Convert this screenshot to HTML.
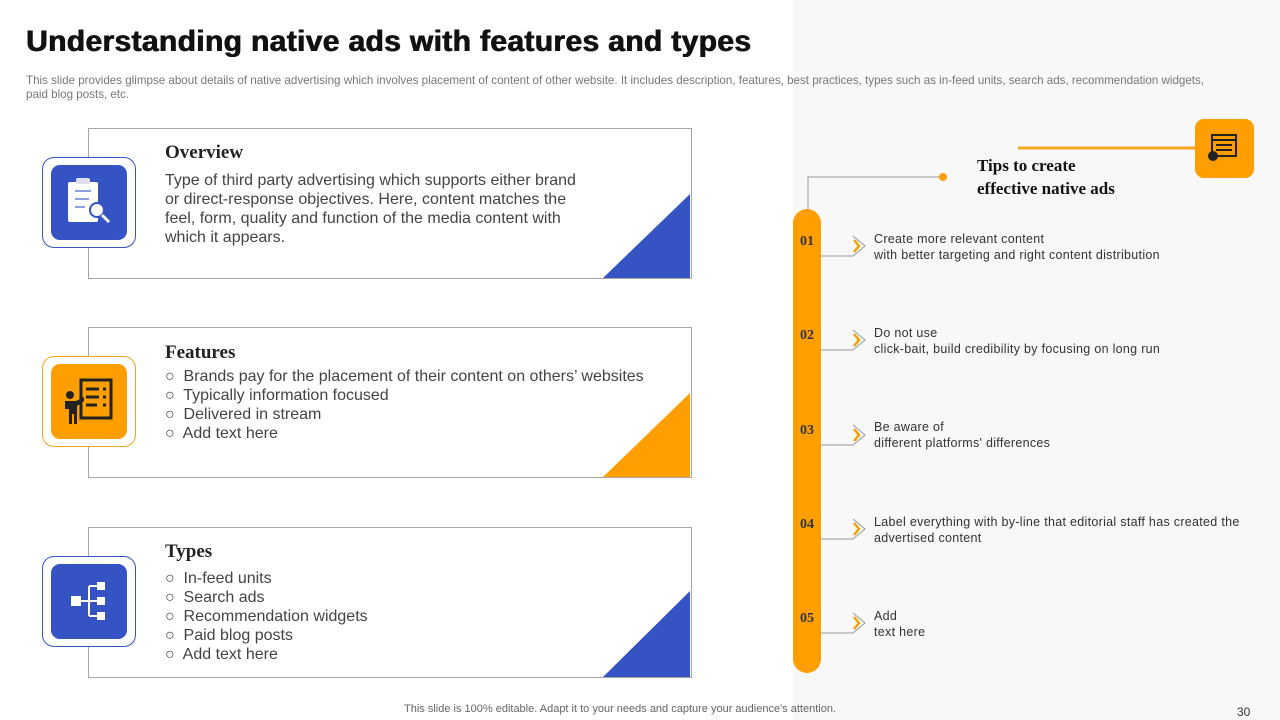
<!DOCTYPE html>
<html><head><meta charset="utf-8"><style>
*{margin:0;padding:0;box-sizing:border-box}
body{width:1280px;height:720px;position:relative;background:#fff;font-family:"Liberation Sans",sans-serif;overflow:hidden;color:#333}
.a{position:absolute}
.card{position:absolute;left:88px;width:604px;height:151px;border:1px solid #a6a6a6;background:#fff;overflow:hidden}
.card svg{position:absolute;right:0;bottom:0}
.ib{position:absolute;left:42px;width:94px;height:91px;border-radius:12px;background:#fff}
.ii{position:absolute;left:8px;top:7px;width:76px;height:75px;border-radius:9px}
.h{position:absolute;left:165px;font-family:"Liberation Serif",serif;font-weight:bold;font-size:19px;color:#222}
.t{position:absolute;left:165px;font-size:16px;line-height:19px;color:#444}
.num{position:absolute;left:793px;width:28px;text-align:center;font-family:"Liberation Serif",serif;font-weight:bold;font-size:14px;color:#333}
.tip{position:absolute;left:874px;font-size:12.5px;line-height:16px;color:#333;letter-spacing:0.3px}
</style></head><body>
<div class="a" style="left:793px;top:0;width:487px;height:720px;background:#f8f8f8"></div>
<div class="a" style="left:26px;top:25px;font-size:30px;font-weight:bold;color:#111;letter-spacing:0.35px;text-shadow:0.6px 0 0 #111,-0.3px 0 0 #111">Understanding native ads with features and types</div>
<div class="a" style="left:26px;top:74px;width:1240px;font-size:11.6px;line-height:14px;color:#777;white-space:nowrap">This slide provides glimpse about details of native advertising which involves placement of content of other website. It includes description, features, best practices, types such as in-feed units, search ads, recommendation widgets,<br>paid blog posts, etc.</div>

<div class="card" style="top:128px"><svg width="88" height="84"><polygon points="87,0 87,84 0,84" fill="#3653c4"/></svg></div>
<div class="card" style="top:327px"><svg width="88" height="84"><polygon points="87,0 87,84 0,84" fill="#ff9e00"/></svg></div>
<div class="card" style="top:527px"><svg width="88" height="86"><polygon points="87,0 87,86 0,86" fill="#3653c4"/></svg></div>

<div class="ib" style="top:157px;border:1px solid #3653c4"><div class="ii" style="background:#3653c4"><svg width="76" height="75"><rect x="17" y="17" width="30" height="40" rx="2" fill="#fff"/><rect x="25" y="13" width="14" height="6" rx="2" fill="#dde"/><g stroke="#8fa0e0" stroke-width="2"><line x1="24" y1="26" x2="40" y2="26"/><line x1="24" y1="34" x2="38" y2="34"/><line x1="24" y1="42" x2="34" y2="42"/></g><circle cx="46" cy="45" r="7" fill="#fff" stroke="#3653c4" stroke-width="2"/><line x1="51" y1="50" x2="58" y2="57" stroke="#fff" stroke-width="3"/></svg></div></div>
<div class="ib" style="top:356px;border:1px solid #f0a818"><div class="ii" style="background:#ff9e00"><svg width="76" height="75"><rect x="30" y="16" width="30" height="38" fill="none" stroke="#222" stroke-width="3"/><g stroke="#222" stroke-width="3"><line x1="35" y1="25" x2="48" y2="25"/><line x1="35" y1="33" x2="48" y2="33"/><line x1="35" y1="41" x2="46" y2="41"/><line x1="52" y1="25" x2="55" y2="25"/><line x1="52" y1="33" x2="55" y2="33"/><line x1="52" y1="41" x2="55" y2="41"/></g><circle cx="19" cy="31" r="4" fill="#222"/><path d="M14 37h11l8-4v4l-7 5v18h-3v-10h-2v10h-3v-15h-4z" fill="#222"/></svg></div></div>
<div class="ib" style="top:556px;border:1px solid #3653c4"><div class="ii" style="background:#3653c4"><svg width="76" height="75"><g fill="#fff"><rect x="20" y="32" width="10" height="10"/><rect x="46" y="18" width="8" height="8"/><rect x="46" y="33" width="8" height="8"/><rect x="46" y="48" width="8" height="8"/></g><g stroke="#fff" stroke-width="2" fill="none"><path d="M30 37h8M38 22v30M38 22h8M38 37h8M38 52h8"/></g></svg></div></div>

<div class="h" style="top:142px">Overview</div>
<div class="t" style="top:171px;width:418px">Type of third party advertising which supports either brand or direct-response objectives. Here, content matches the feel, form, quality and function of the media content with which it appears.</div>
<div class="h" style="top:342px">Features</div>
<div class="t" style="top:367px">○&nbsp; Brands pay for the placement of their content on others’ websites<br>○&nbsp; Typically information focused<br>○&nbsp; Delivered in stream<br>○&nbsp; Add text here</div>
<div class="h" style="top:541px">Types</div>
<div class="t" style="top:569px">○&nbsp; In-feed units<br>○&nbsp; Search ads<br>○&nbsp; Recommendation widgets<br>○&nbsp; Paid blog posts<br>○&nbsp; Add text here</div>

<svg class="a" style="left:0;top:0" width="1280" height="720">
<polyline points="808,212 808,177 943,177" fill="none" stroke="#999" stroke-width="1"/>
<circle cx="943" cy="177" r="4" fill="#ff9e00"/>
<line x1="1018" y1="148" x2="1200" y2="148" stroke="#f5a623" stroke-width="3"/>
<g id="conn"></g>
</svg>
<div class="a" style="left:1195px;top:119px;width:59px;height:59px;border-radius:9px;background:#ff9e00"><svg width="59" height="59"><rect x="17" y="16" width="24" height="21" fill="none" stroke="#222" stroke-width="2"/><g stroke="#222" stroke-width="2"><line x1="17" y1="21" x2="41" y2="21"/><line x1="21" y1="26" x2="37" y2="26"/><line x1="21" y1="31" x2="37" y2="31"/></g><circle cx="18" cy="37" r="5" fill="#222"/></svg></div>
<div class="a" style="left:977px;top:154px;font-family:'Liberation Serif',serif;font-weight:bold;font-size:17px;line-height:23px;color:#111">Tips to create<br>effective native ads</div>
<div class="a" style="left:793px;top:209px;width:28px;height:464px;border-radius:14px;background:#ff9e00"></div>

<div class="num" style="top:234px">01</div>
<div class="num" style="top:328px">02</div>
<div class="num" style="top:423px">03</div>
<div class="num" style="top:517px">04</div>
<div class="num" style="top:611px">05</div>
<div class="tip" style="top:231px">Create more relevant content<br>with better targeting and right content distribution</div>
<div class="tip" style="top:325px">Do not use<br>click-bait, build credibility by focusing on long run</div>
<div class="tip" style="top:419px">Be aware of<br>different platforms' differences</div>
<div class="tip" style="top:514px">Label everything with by-line that editorial staff has created the<br>advertised content</div>
<div class="tip" style="top:608px">Add<br>text here</div>

<div class="a" style="left:404px;top:703px;font-size:11px;color:#666">This slide is 100% editable. Adapt it to your needs and capture your audience's attention.</div>
<div class="a" style="left:1237px;top:705px;font-size:12px;color:#333">30</div>
<script>
const ys=[256,350,445,539,633];
const g=document.getElementById('conn');
ys.forEach(y=>{
 const p=document.createElementNS('http://www.w3.org/2000/svg','polyline');
 
 
 p.setAttribute('points',`795,${y} 853,${y} 865,${y-10} 853,${y-20}`);
 p.setAttribute('fill','none');p.setAttribute('stroke','#999');
 g.appendChild(p);
 const c=document.createElementNS('http://www.w3.org/2000/svg','polyline');
 
 
 c.setAttribute('points',`854,${y-16} 859,${y-10} 854,${y-4}`);
 c.setAttribute('fill','none');c.setAttribute('stroke','#f5a000');c.setAttribute('stroke-width','2.5');
 g.appendChild(c);
});
</script>
</body></html>
